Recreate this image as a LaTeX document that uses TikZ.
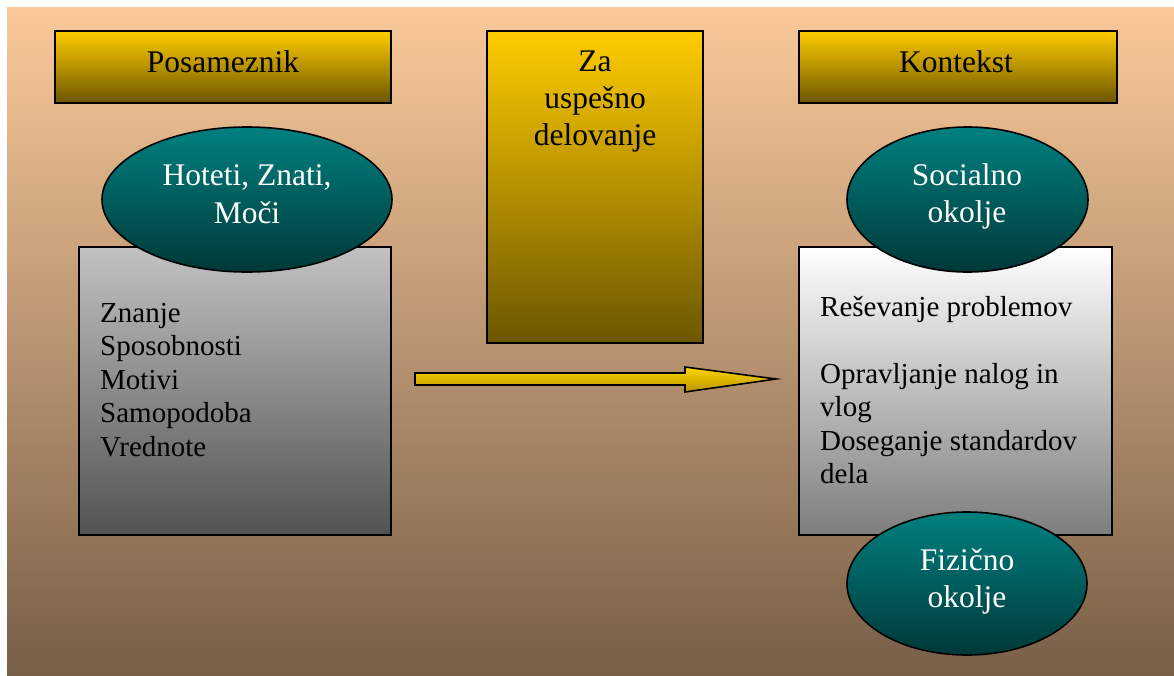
\documentclass[tikz,border=0pt]{standalone}
\usepackage{fontspec}
\setmainfont{Liberation Serif}
\usetikzlibrary{shapes.geometric}
\definecolor{bgtop}{RGB}{250,201,154}
\definecolor{bgbot}{RGB}{120,95,72}
\definecolor{goldtop}{RGB}{255,204,0}
\definecolor{goldbot}{RGB}{108,86,0}
\definecolor{tealtop}{RGB}{0,128,128}
\definecolor{tealbot}{RGB}{0,56,56}
\definecolor{graytop}{RGB}{194,194,194}
\definecolor{graybot}{RGB}{82,82,82}
\definecolor{whtop}{RGB}{255,255,255}
\definecolor{whbot}{RGB}{125,125,125}
\definecolor{arrtop}{RGB}{255,214,0}
\definecolor{arrbot}{RGB}{185,148,0}
\begin{document}
\begin{tikzpicture}[x=1pt,y=-1pt,
  box/.style={draw=black, line width=1.6pt, rectangle, inner sep=0pt},
  gold/.style={top color=goldtop, bottom color=goldbot},
  oval/.style={ellipse, draw=black, line width=1.6pt, inner sep=0pt, top color=tealtop, bottom color=tealbot},
  head/.style={font=\fontsize{31.5}{37}\selectfont, anchor=base, inner sep=0pt},
  ovaltext/.style={head, text=white},
  body/.style={font=\fontsize{29}{33.5}\selectfont, anchor=base west, inner sep=0pt}]
\useasboundingbox (0,0) rectangle (1174,675);
\fill[top color=bgtop, bottom color=bgbot] (7,7) rectangle (1174,675);

% header boxes
\node[box,gold,minimum width=336pt,minimum height=72pt] (pos) at (223,67) {};
\node[box,gold,minimum width=216pt,minimum height=312pt] (za) at (595,187) {};
\node[box,gold,minimum width=318pt,minimum height=72pt] (kon) at (958,67) {};
\node[head] (tpos) at (223,72) {Posameznik};
\node[head] (tkon) at (956,72) {Kontekst};
\node[head] (tza1) at (595,71) {Za};
\node[head] (tza2) at (595,108) {uspešno};
\node[head] (tza3) at (595,145) {delovanje};

% content boxes
\node[box,top color=graytop,bottom color=graybot,minimum width=312pt,minimum height=288pt] (lb) at (235,391) {};
\node[box,top color=whtop,bottom color=whbot,minimum width=313pt,minimum height=288pt] (rb) at (955.5,391) {};

% ellipses
\node[oval,minimum width=290pt,minimum height=145pt] (hot) at (247,199.5) {};
\node[oval,minimum width=241pt,minimum height=145pt] (soc) at (967.5,199.5) {};
\node[oval,minimum width=240pt,minimum height=143pt] (fiz) at (967,583.5) {};
\node[ovaltext] (thot1) at (247,185) {Hoteti, Znati,};
\node[ovaltext] (thot2) at (247,223) {Moči};
\node[ovaltext] (tsoc1) at (967,185) {Socialno};
\node[ovaltext] (tsoc2) at (967,222) {okolje};
\node[ovaltext] (tfiz1) at (967,570) {Fizično};
\node[ovaltext] (tfiz2) at (967,607) {okolje};

% left box text
\node[body] (l1) at (100,322) {Znanje};
\node[body] (l2) at (100,355.5) {Sposobnosti};
\node[body] (l3) at (100,389) {Motivi};
\node[body] (l4) at (100,422.5) {Samopodoba};
\node[body] (l5) at (100,456) {Vrednote};

% right box text
\node[body] (r1) at (820,316) {Reševanje problemov};
\node[body] (r2) at (820,383) {Opravljanje nalog in};
\node[body] (r3) at (820,416.5) {vlog};
\node[body] (r4) at (820,450) {Doseganje standardov};
\node[body] (r5) at (820,483.5) {dela};

% block arrow
\coordinate (as) at (415,379);
\coordinate (ae) at (776,379);
\draw[line width=1.6pt, line join=miter, top color=arrtop, bottom color=arrbot]
  ([yshift=6pt]as) -- (685,373) -- (685,367) -- (ae) -- (685,392) -- (685,385) -- ([yshift=-6pt]as) -- cycle;
\end{tikzpicture}
\end{document}
